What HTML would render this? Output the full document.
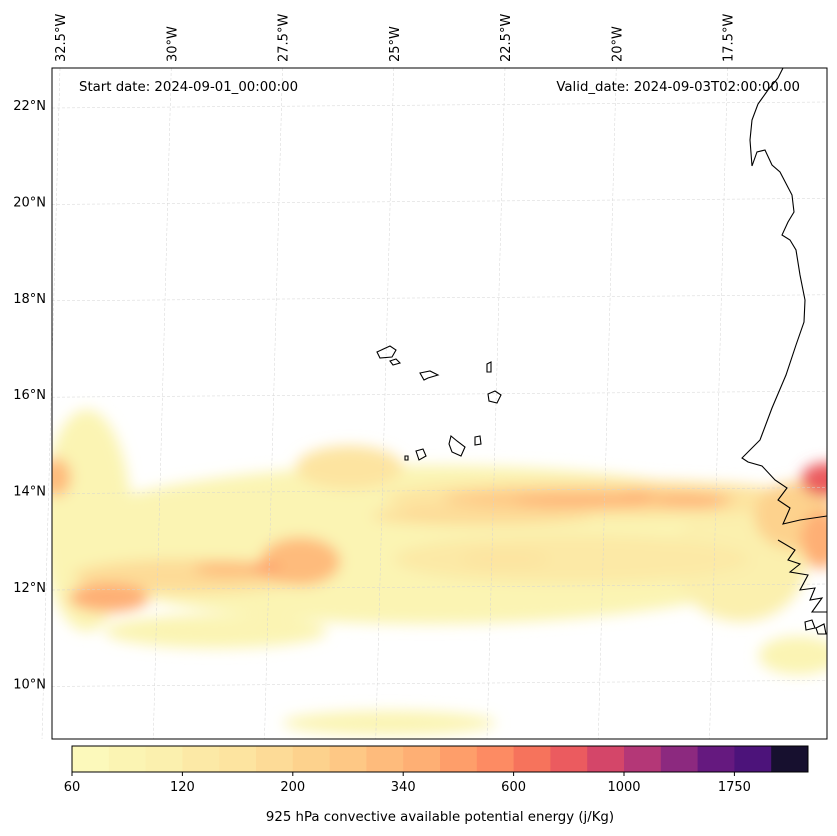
<!DOCTYPE html>
<html><head><meta charset="utf-8"><style>
html,body{margin:0;padding:0;background:#fff;}
svg{display:block;font-family:"DejaVu Sans","Liberation Sans",sans-serif;}
</style></head><body>
<svg id="chart" width="837" height="836" viewBox="0 0 837 836" xmlns="http://www.w3.org/2000/svg">
<defs>
<clipPath id="axclip"><rect x="52" y="68" width="775" height="671"/></clipPath>
<filter id="blur" x="-50%" y="-50%" width="200%" height="200%"><feGaussianBlur stdDeviation="7"/></filter>
</defs>
<rect x="0" y="0" width="837" height="836" fill="#fff"/>
<g id="field" clip-path="url(#axclip)"></g>
<g id="grid"></g>
<g id="coast" clip-path="url(#axclip)" fill="none" stroke="#000" stroke-width="1.1">
<path d="M783,68 L778,78 L768,90 L758,104 L752,120 L750,140 L752,166 L757,152 L765,150 L772,165 L780,172 L792,195 L794,212 L788,222 L782,235 L790,240 L796,250 L800,275 L805,300 L804,322 L796,345 L786,375 L772,408 L760,440 L742,458 L748,462 L762,466 L775,480 L787,488 L778,500 L790,508 L783,524 L800,520 L827,516"/>
<path d="M778,540 L795,550 L788,560 L800,564 L790,572 L808,575 L800,590 L815,588 L810,600 L822,598 L812,612 L827,612"/>
<path d="M805,622 L812,620 L815,628 L806,630 Z M816,628 L824,624 L826,634 L818,634 Z"/>
<path d="M377,352 L390,346 L396,350 L392,357 L380,358 Z"/>
<path d="M390,361 L396,359 L400,363 L393,365 Z"/>
<path d="M420,373 L430,371 L438,375 L428,378 L424,380 Z"/>
<path d="M487,364 L491,362 L491,372 L487,372 Z"/>
<path d="M488,394 L495,391 L501,395 L497,403 L489,401 Z"/>
<path d="M451,436 L457,441 L465,447 L461,456 L452,452 L449,444 Z"/>
<path d="M416,451 L423,449 L426,456 L419,460 Z"/>
<path d="M475,437 L480,436 L481,444 L475,445 Z"/>
<path d="M405,456 L408,456 L408,460 L405,460 Z"/>
</g>
<rect x="52" y="68" width="775" height="671" fill="none" stroke="#000" stroke-width="1"/>
<g id="lonlabels" font-size="13" fill="#000"></g>
<g id="latlabels" font-size="13" fill="#000"></g>
<text x="79" y="91" font-size="13.3">Start date: 2024-09-01_00:00:00</text>
<text x="800" y="91" font-size="13.3" text-anchor="end">Valid_date: 2024-09-03T02:00:00.00</text>
<g id="cbar"></g>
<text x="440" y="821" font-size="13.3" text-anchor="middle">925 hPa convective available potential energy (j/Kg)</text>
</svg>
<script>
const NS="http://www.w3.org/2000/svg";
const lonTicks=[-32.5,-30,-27.5,-25,-22.5,-20,-17.5];
const lonLabels=["32.5°W","30°W","27.5°W","25°W","22.5°W","20°W","17.5°W"];
const latTicks=[22,20,18,16,14,12,10];
const latLabels=["22°N","20°N","18°N","16°N","14°N","12°N","10°N"];
const levelColors=["#fcf9bb","#fbf4b3","#fbf0ae","#fce9a6","#fde4a0","#fddb97","#fdd28d","#fec885","#febb7c","#feaf74","#fe9e6a","#fd8b63","#f6735c","#eb5b5f","#d44669","#b43777","#8c297f","#65197f","#4c137a","#17102f"];
const cbarTickIdx=[0,3,6,9,12,15,18];
const cbarTickLabels=["60","120","200","340","600","1000","1750"];
const blobLon=[-24.2,-31.9,-25.1,-20.4,-20.6,-20.8,-31.4,-27.1,-29.6,-32.6,-15.3,-15.4,-26.0,-15.9,-17.2,-29.0,-21.0,-23.0,-18.3,-16.0,-28.7,-27.9,-19.5,-22.5];
const blobLat=[12.9,13.4,9.2,13.85,13.85,13.8,11.8,12.55,12.25,14.3,14.25,13.0,14.5,10.6,12.6,11.1,12.6,13.5,13.8,13.5,12.4,12.4,13.9,12.6];
const blobRx=[8.7,1.0,2.4,4.8,3.3,1.5,0.9,0.9,2.6,0.35,0.55,0.45,1.2,0.9,1.5,2.5,4.0,2.5,0.8,0.9,0.8,0.35,0.4,1.0];
const blobRy=[1.65,2.3,0.25,0.4,0.2,0.1,0.3,0.5,0.35,0.4,0.35,0.6,0.45,0.4,1.3,0.35,0.5,0.2,0.12,0.7,0.15,0.12,0.1,0.2];
const blobLev=[1,1,1,4,7,9,9,8,5,8,13,9,4,1,2,1,3,5,9,6,8,10,9,4];

function xs(lon){return 60+(lon+32.5)*44.5;}
function ys(lat){return 106+(22-lat)*48.2;}

const field=document.getElementById('field');
const order=blobLev.map((l,i)=>i).sort((a,b)=>blobLev[a]-blobLev[b]);
const fg=document.createElementNS(NS,'g');
fg.setAttribute('filter','url(#blur)');
field.appendChild(fg);
order.forEach(i=>{
  const e=document.createElementNS(NS,'ellipse');
  e.setAttribute('cx',xs(blobLon[i]));
  e.setAttribute('cy',ys(blobLat[i]));
  e.setAttribute('rx',blobRx[i]*44.5);
  e.setAttribute('ry',blobRy[i]*48.2);
  e.setAttribute('fill',levelColors[blobLev[i]]);
  
  
  fg.appendChild(e);
});

const grid=document.getElementById('grid');
lonTicks.forEach((lon,i)=>{
  const l=document.createElementNS(NS,'line');
  l.setAttribute('x1',xs(lon));l.setAttribute('y1',68);
  l.setAttribute('x2',xs(lon)-18);l.setAttribute('y2',739);
  l.setAttribute('stroke','#d4d4d4');l.setAttribute('stroke-width','0.5');l.setAttribute('stroke-dasharray','3,2');
  
  
  grid.appendChild(l);
  const t=document.createElementNS(NS,'text');
  const x=xs(lon)+5,y=62;
  t.setAttribute('transform','translate('+x+','+y+') rotate(-90)');
  t.textContent=lonLabels[i];
  
  
  document.getElementById('lonlabels').appendChild(t);
});
latTicks.forEach((lat,i)=>{
  const l=document.createElementNS(NS,'line');
  l.setAttribute('x1',52);l.setAttribute('y1',ys(lat)+2);
  l.setAttribute('x2',827);l.setAttribute('y2',ys(lat)-4);
  l.setAttribute('stroke','#d4d4d4');l.setAttribute('stroke-width','0.5');l.setAttribute('stroke-dasharray','3,2');
  
  
  grid.appendChild(l);
  const t=document.createElementNS(NS,'text');
  t.setAttribute('x',46);t.setAttribute('y',ys(lat)+4);t.setAttribute('text-anchor','end');
  t.textContent=latLabels[i];
  
  
  document.getElementById('latlabels').appendChild(t);
});

const cbar=document.getElementById('cbar');
const cx0=72,cx1=808,cy=746,ch=26;
const bw=(cx1-cx0)/levelColors.length;
levelColors.forEach((c,i)=>{
  const r=document.createElementNS(NS,'rect');
  r.setAttribute('x',cx0+i*bw);r.setAttribute('y',cy);r.setAttribute('width',bw+0.5);r.setAttribute('height',ch);
  r.setAttribute('fill',c);
  
  
  cbar.appendChild(r);
});
const fr=document.createElementNS(NS,'rect');
fr.setAttribute('x',cx0);fr.setAttribute('y',cy);fr.setAttribute('width',cx1-cx0);fr.setAttribute('height',ch);
fr.setAttribute('fill','none');fr.setAttribute('stroke','#000');


cbar.appendChild(fr);
cbarTickIdx.forEach((idx,i)=>{
  const x=cx0+idx*bw;
  const l=document.createElementNS(NS,'line');
  l.setAttribute('x1',x);l.setAttribute('x2',x);l.setAttribute('y1',cy+ch);l.setAttribute('y2',cy+ch+4);
  l.setAttribute('stroke','#000');
  
  
  cbar.appendChild(l);
  const t=document.createElementNS(NS,'text');
  t.setAttribute('x',x);t.setAttribute('y',cy+ch+19);t.setAttribute('text-anchor','middle');t.setAttribute('font-size','13');
  t.textContent=cbarTickLabels[i];
  
  
  cbar.appendChild(t);
});
</script>
</body></html>
